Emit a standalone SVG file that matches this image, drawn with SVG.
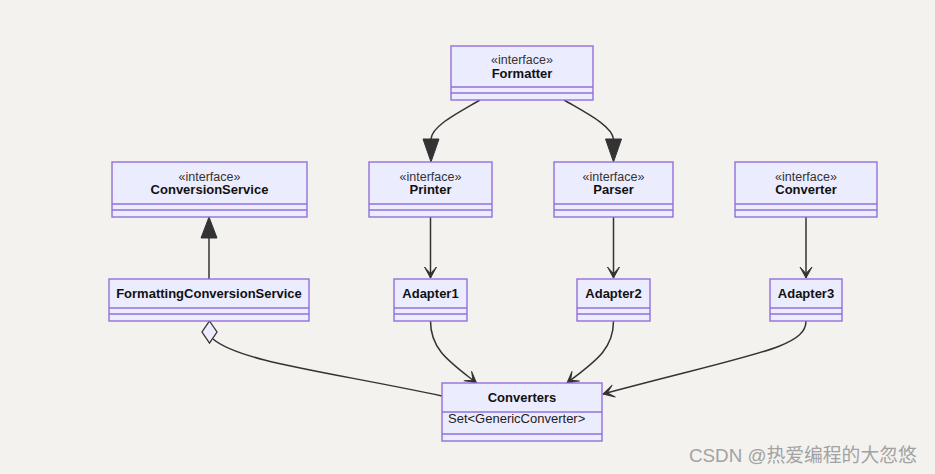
<svg xmlns="http://www.w3.org/2000/svg" width="935" height="474" viewBox="0 0 935 474">
<style>
.box{fill:#ECECFF;stroke:#9370DB;stroke-width:1.4}
.div{stroke:#9370DB;stroke-width:1.4}
.st{font-family:"Liberation Sans",Arial,sans-serif;font-size:12.5px;fill:#333;text-anchor:middle}
.nm{font-family:"Liberation Sans",Arial,sans-serif;font-size:13px;font-weight:bold;fill:#111;text-anchor:middle}
.mb{font-family:"Liberation Sans",Arial,sans-serif;font-size:13px;fill:#222}
.edge{fill:none;stroke:#333;stroke-width:1.5}
.tri{fill:#333;stroke:#333;stroke-width:1}
</style>
<defs>
<marker id="open" markerUnits="userSpaceOnUse" markerWidth="14" markerHeight="14" viewBox="-13 -7 14 14" refX="0" refY="0" orient="auto">
<path d="M0,0 L-11,-6 L-4.5,0 L-11,6 Z" fill="#333" stroke="#333" stroke-width="1" stroke-linejoin="round"/>
</marker>
</defs>
<rect width="935" height="474" fill="#f3f2ee"/>

<g id="connectors">
<path class="edge" d="M480,100 C456,114 432,126 431,139"/>
<polygon class="tri" points="431,162 423,139 439,139"/>
<path class="edge" d="M564,100 C588,114 612,126 613.5,139"/>
<polygon class="tri" points="613.5,162 605.5,139 621.5,139"/>
<path class="edge" d="M209,279 L209,238"/>
<polygon class="tri" points="209,217 201,238 217,238"/>
<path class="edge" d="M430.5,217 L430.5,278" marker-end="url(#open)"/>
<path class="edge" d="M613.5,217 L613.5,278" marker-end="url(#open)"/>
<path class="edge" d="M806,217 L806,278" marker-end="url(#open)"/>
<path class="edge" d="M430.5,321 C430.5,350 450,362 476.5,383" marker-end="url(#open)"/>
<path class="edge" d="M613.5,321 C613.5,350 594,362 567,383" marker-end="url(#open)"/>
<path class="edge" d="M806,321 C806,348 752,354 603,394" marker-end="url(#open)"/>
<path class="edge" d="M213,339 C240,362 330,372 442,396"/>
<polygon points="209.5,321 217,332 209.5,343 202,332" fill="#ECECFF" stroke="#333" stroke-width="1.3"/>
</g>

<g id="Formatter">
<rect class="box" x="451" y="46" width="142" height="54"/>
<line class="div" x1="451" y1="87" x2="593" y2="87"/>
<line class="div" x1="451" y1="93" x2="593" y2="93"/>
<text class="st" x="522" y="64">«interface»</text>
<text class="nm" x="522" y="77.5">Formatter</text>
</g>

<g id="ConversionService">
<rect class="box" x="112" y="162" width="195" height="55"/>
<line class="div" x1="112" y1="204" x2="307" y2="204"/>
<line class="div" x1="112" y1="210" x2="307" y2="210"/>
<text class="st" x="209.5" y="180.5">«interface»</text>
<text class="nm" x="209.5" y="194">ConversionService</text>
</g>

<g id="Printer">
<rect class="box" x="369" y="162" width="123" height="55"/>
<line class="div" x1="369" y1="204" x2="492" y2="204"/>
<line class="div" x1="369" y1="210" x2="492" y2="210"/>
<text class="st" x="430.5" y="180.5">«interface»</text>
<text class="nm" x="430.5" y="194">Printer</text>
</g>

<g id="Parser">
<rect class="box" x="554" y="162" width="119" height="55"/>
<line class="div" x1="554" y1="204" x2="673" y2="204"/>
<line class="div" x1="554" y1="210" x2="673" y2="210"/>
<text class="st" x="613.5" y="180.5">«interface»</text>
<text class="nm" x="613.5" y="194">Parser</text>
</g>

<g id="Converter">
<rect class="box" x="735" y="162" width="142" height="55"/>
<line class="div" x1="735" y1="204" x2="877" y2="204"/>
<line class="div" x1="735" y1="210" x2="877" y2="210"/>
<text class="st" x="806" y="180.5">«interface»</text>
<text class="nm" x="806" y="194">Converter</text>
</g>

<g id="FormattingConversionService">
<rect class="box" x="109" y="279" width="200" height="42"/>
<line class="div" x1="109" y1="308" x2="309" y2="308"/>
<line class="div" x1="109" y1="314" x2="309" y2="314"/>
<text class="nm" x="209" y="297.5">FormattingConversionService</text>
</g>

<g id="Adapter1">
<rect class="box" x="394" y="279" width="73" height="42"/>
<line class="div" x1="394" y1="308" x2="467" y2="308"/>
<line class="div" x1="394" y1="314" x2="467" y2="314"/>
<text class="nm" x="430.5" y="297.5">Adapter1</text>
</g>

<g id="Adapter2">
<rect class="box" x="577" y="279" width="73" height="42"/>
<line class="div" x1="577" y1="308" x2="650" y2="308"/>
<line class="div" x1="577" y1="314" x2="650" y2="314"/>
<text class="nm" x="613.5" y="297.5">Adapter2</text>
</g>

<g id="Adapter3">
<rect class="box" x="770" y="279" width="72" height="42"/>
<line class="div" x1="770" y1="308" x2="842" y2="308"/>
<line class="div" x1="770" y1="314" x2="842" y2="314"/>
<text class="nm" x="806" y="297.5">Adapter3</text>
</g>

<g id="Converters">
<rect class="box" x="442" y="383" width="160" height="58"/>
<line class="div" x1="442" y1="412" x2="602" y2="412"/>
<line class="div" x1="442" y1="434" x2="602" y2="434"/>
<text class="nm" x="522" y="402">Converters</text>
<text class="mb" x="448" y="423">Set&lt;GenericConverter&gt;</text>
</g>

<text x="689" y="462" font-family="Liberation Sans,'Noto Sans CJK SC',sans-serif" font-size="18.8" fill="#a2a2a2">CSDN @热爱编程的大忽悠</text>
</svg>
